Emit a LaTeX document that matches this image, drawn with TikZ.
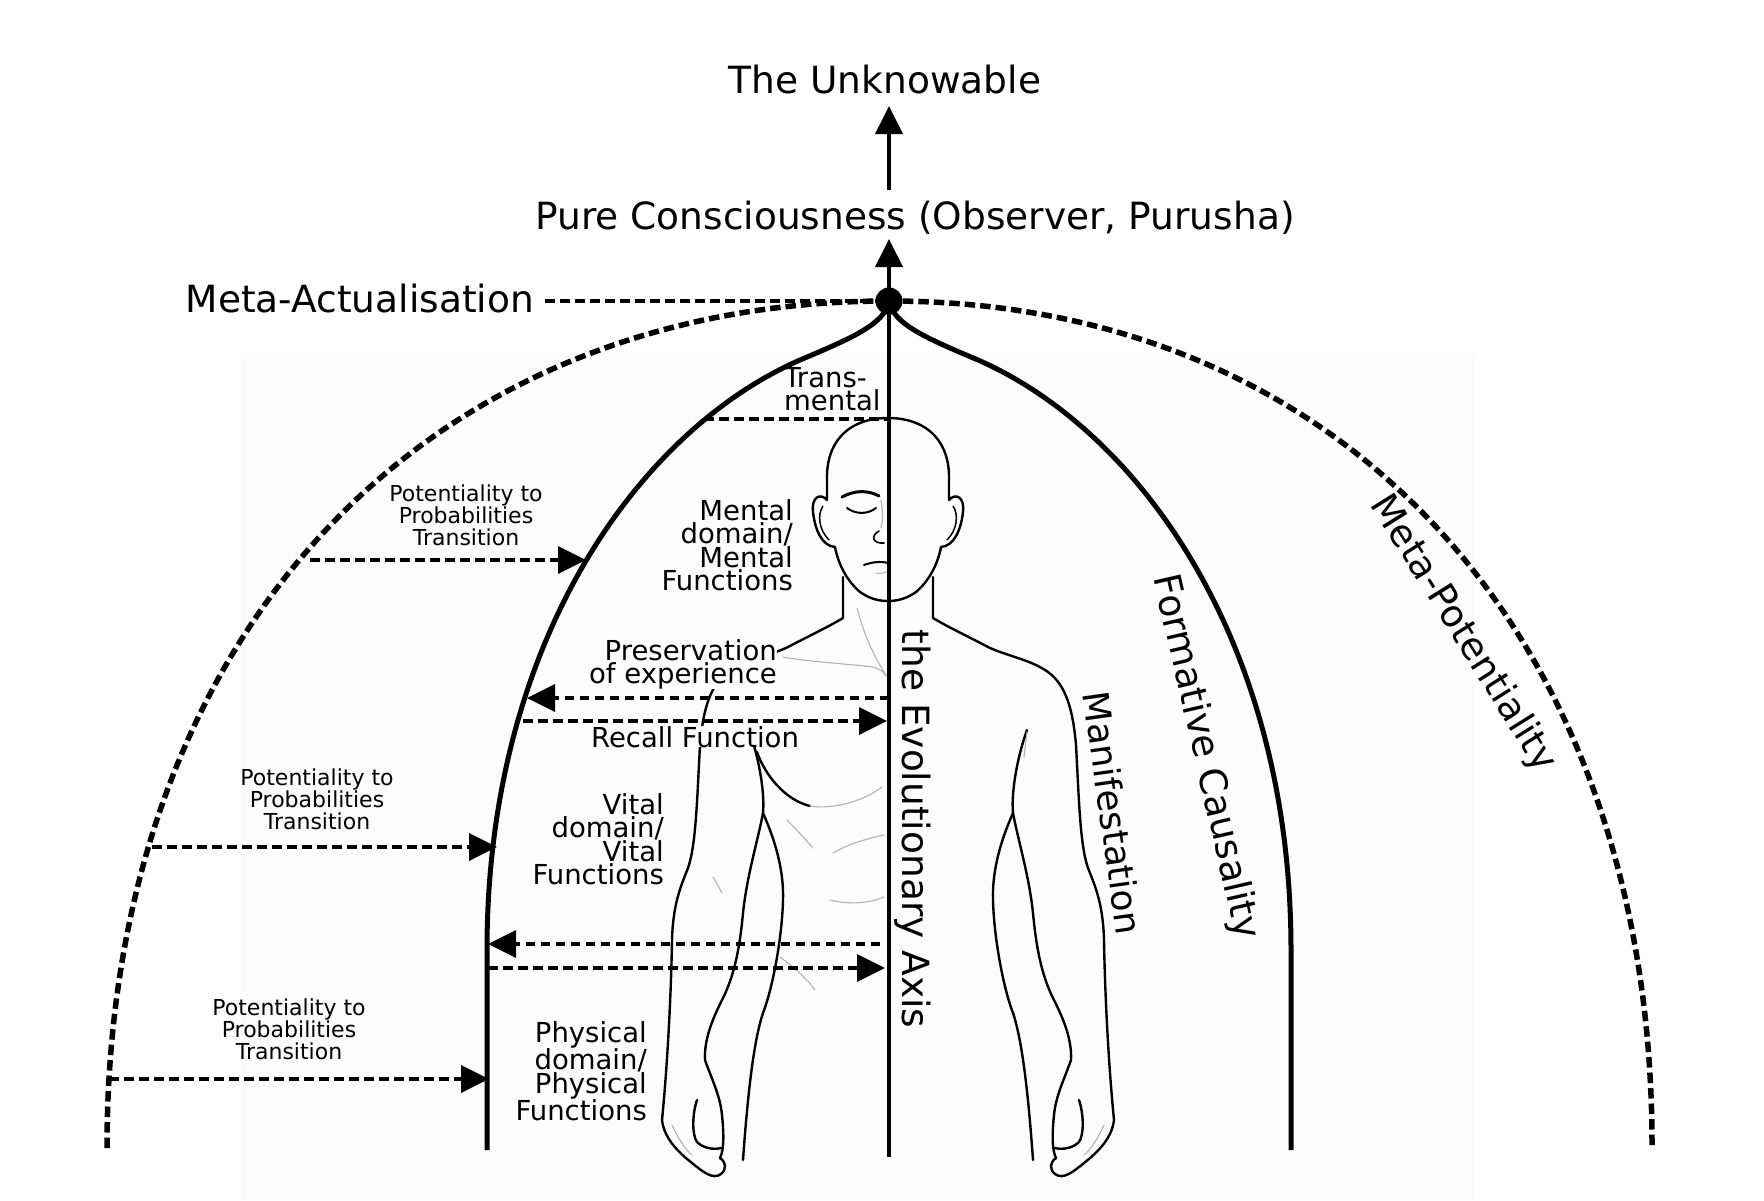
\documentclass[tikz,border=0pt]{standalone}
\usepackage{fontspec}
\setmainfont{DejaVu Sans}
\usetikzlibrary{arrows.meta}
\definecolor{bgc}{RGB}{252,252,252}
\newcommand{\halfman}{%
  \draw[body] (888,418) .. controls (852,418) and (828,438) .. (827,475) -- (827,500)
    .. controls (820,492) and (811,498) .. (813,512)
    .. controls (815,530) and (822,546) .. (835,547)
    .. controls (838,563) and (846,580) .. (860,592)
    .. controls (870,599) and (879,601) .. (888,601);
  \draw[line width=1.5pt] (823,506) .. controls (817,515) and (819,530) .. (829,540);
  \draw[body] (843,577) -- (843,618)
    .. controls (830,626) and (805,638) .. (786,648)
    .. controls (765,657) and (745,660) .. (728,672)
    .. controls (710,685) and (703,710) .. (700,745)
    .. controls (697,800) and (696,845) .. (688,868)
    .. controls (680,888) and (673,905) .. (672,940)
    .. controls (671,1000) and (667,1070) .. (662,1120)
    .. controls (664,1138) and (678,1152) .. (692,1163)
    .. controls (703,1172) and (713,1180) .. (721,1174)
    .. controls (727,1169) and (726,1162) .. (720,1158);
  \draw[body] (749,730) .. controls (758,755) and (765,790) .. (763,813)
    .. controls (758,840) and (747,875) .. (743,913)
    .. controls (740,945) and (735,975) .. (722,1000)
    .. controls (712,1020) and (704,1040) .. (705,1060)
    .. controls (712,1080) and (720,1095) .. (722,1115)
    .. controls (724,1135) and (724,1150) .. (720,1158);
  \draw[body] (763,813) .. controls (775,840) and (784,870) .. (783,900)
    .. controls (782,940) and (772,990) .. (763,1013)
    .. controls (754,1040) and (748,1090) .. (743,1160);
  \draw[body] (697,1100) .. controls (692,1115) and (692,1135) .. (697,1142)
    .. controls (703,1148) and (713,1150) .. (721,1148);
  \draw[fine] (672,1125) .. controls (678,1138) and (684,1148) .. (692,1155);
}
\begin{document}
\begin{tikzpicture}[x=1pt,y=-1pt,
  big/.style={font=\fontsize{37.5}{40}\selectfont, inner sep=0pt},
  midtxt/.style={font=\fontsize{27.5}{23.5}\selectfont, inner sep=0pt, fill=bgc},
  smalltxt/.style={font=\fontsize{22}{22}\selectfont, inner sep=0pt, align=center},
  dashln/.style={line width=3.6pt, dash pattern=on 9.5pt off 5.5pt},
  arcln/.style={line width=5.5pt, dash pattern=on 10.5pt off 5pt},
  solidln/.style={line width=5pt},
  tipped/.style={-{Triangle[length=28pt,width=27pt]}},
  body/.style={line width=2.4pt, line cap=round, line join=round},
  fine/.style={line width=1.1pt, gray!60, line cap=round},
]
\useasboundingbox (0,0) rectangle (1764,1200);
\fill[white] (0,0) rectangle (1764,1200);
\fill[bgc] (241,353) rectangle (1475,1200);

% ---------- figure ----------
\halfman
\begin{scope}[xshift=1776pt, xscale=-1]
  \halfman
\end{scope}
% face (left half only)
\draw[line width=3pt, line cap=round] (842,497) .. controls (855,490) and (868,490) .. (879,496);
\draw[line width=2pt, line cap=round] (847,508) .. controls (855,514) and (867,515) .. (876,508);
\draw[fine] (881,500) .. controls (883,512) and (883,520) .. (881,528);
\draw[line width=1.6pt, line cap=round] (879,531) .. controls (870,536) and (873,544) .. (884,543);
\draw[line width=2pt, line cap=round] (864,565) .. controls (872,562) and (881,561) .. (888,563);
\draw[fine] (876,573) .. controls (881,574) and (885,573) .. (888,571);
% neck, chest and abdomen details
\draw[fine] (783,657) .. controls (810,662) and (850,664) .. (873,667) .. controls (880,669) and (884,672) .. (886,676);
\draw[fine] (857,608) .. controls (863,630) and (870,650) .. (886,675);
\draw[body] (757,752) .. controls (765,775) and (785,800) .. (810,806);
\draw[fine] (810,806) .. controls (835,810) and (865,800) .. (882,787);
\draw[fine] (787,820) .. controls (797,830) and (806,840) .. (813,848);
\draw[fine] (833,853) .. controls (850,843) and (870,838) .. (884,835);
\draw[fine] (830,900) .. controls (850,905) and (870,903) .. (884,897);
\draw[fine] (780,957) .. controls (795,968) and (808,980) .. (815,990);
\draw[fine] (713,877) -- (722,893);
\draw[fine] (1027,732) -- (1024,757);

% ---------- texts ----------
\node[big, anchor=base] (unk) at (885,93) {The Unknowable};
\node[big, anchor=base] (pc) at (915,229) {Pure Consciousness (Observer, Purusha)};
\node[big, anchor=base east] (ma) at (534,312) {Meta-Actualisation};
\node[midtxt, anchor=north west, align=left] (trans) at (784,367) {Trans-\\mental};
\node[midtxt, anchor=north east, align=right] (mental) at (793,499) {Mental\\domain/\\Mental\\Functions};
\node[midtxt, anchor=north east, align=right] (pres) at (777,639) {Preservation\\of experience};
\node[midtxt, anchor=base] (recall) at (695,747) {Recall Function};
\node[midtxt, anchor=north east, align=right] (vital) at (664,793) {Vital\\domain/\\Vital\\Functions};
\node[midtxt, anchor=north east, align=right] (phys) at (647,1021) {Physical\\domain/\\Physical\\Functions};
\node[smalltxt, anchor=north] (pt1) at (466,485) {Potentiality to\\Probabilities\\Transition};
\node[smalltxt, anchor=north] (pt2) at (317,769) {Potentiality to\\Probabilities\\Transition};
\node[smalltxt, anchor=north] (pt3) at (289,999) {Potentiality to\\Probabilities\\Transition};
\node[big, anchor=base, rotate=-90] (evo) at (902,829) {the Evolutionary Axis};
\node[big, anchor=base, rotate=-82, font=\fontsize{36}{40}\selectfont] (mani) at (1100,815) {Manifestation};
\node[big, anchor=base, rotate=-77] (form) at (1195,759) {Formative Causality};
\node[big, anchor=base, rotate=-58] (metap) at (1454,639) {Meta-Potentiality};

% ---------- main structure ----------
\coordinate (top) at (889,301);
\coordinate (arcL) at (107,1148);
\coordinate (arcR) at (1652,1145);
\draw[arcln] (arcL) .. controls (107,640) and (420,301) .. (top);
\draw[arcln] (arcR) .. controls (1652,640) and (1347,301) .. (top);
\coordinate (solL) at (487,1150);
\coordinate (solR) at (1291,1150);
\draw[solidln] (top) .. controls (885,324) and (852,338) .. (800,360)
  .. controls (640,430) and (487,640) .. (487,950) -- (solL);
\draw[solidln] (top) .. controls (893,324) and (926,338) .. (978,360)
  .. controls (1138,430) and (1291,640) .. (1291,950) -- (solR);
\coordinate (axend) at (889,1157);
\draw[line width=4.5pt] (top) -- (axend);

% vertical arrows
\coordinate (a1s) at (889,190);
\coordinate (a1e) at (889,106);
\draw[line width=4pt, tipped] (a1s) -- (a1e);
\coordinate (a2e) at (889,239);
\draw[line width=4pt, tipped] (top) -- (a2e);

% meta-actualisation line
\coordinate (mas) at (545,301);
\draw[dashln] (mas) -- (top);

% trans-mental line
\coordinate (tms) at (704,419);
\coordinate (tme) at (889,419);
\draw[dashln] (tms) -- (tme);

% horizontal arrows
\coordinate (p1s) at (310,560);  \coordinate (p1e) at (586,560);
\draw[dashln, tipped] (p1s) -- (p1e);
\coordinate (prs) at (889,698);  \coordinate (pre) at (527,698);
\draw[dashln, tipped] (prs) -- (pre);
\coordinate (rcs) at (523,721);  \coordinate (rce) at (887,721);
\draw[dashln, tipped] (rcs) -- (rce);
\coordinate (p2s) at (152,847);  \coordinate (p2e) at (497,847);
\draw[dashln, tipped] (p2s) -- (p2e);
\coordinate (l1s) at (880,944);  \coordinate (l1e) at (488,944);
\draw[dashln, tipped] (l1s) -- (l1e);
\coordinate (l2s) at (488,968);  \coordinate (l2e) at (885,968);
\draw[dashln, tipped] (l2s) -- (l2e);
\coordinate (p3s) at (109,1079); \coordinate (p3e) at (489,1079);
\draw[dashln, tipped] (p3s) -- (p3e);

\node[circle, fill=black, inner sep=0pt, minimum size=27pt] (dot) at (top) {};
\end{tikzpicture}
\end{document}
